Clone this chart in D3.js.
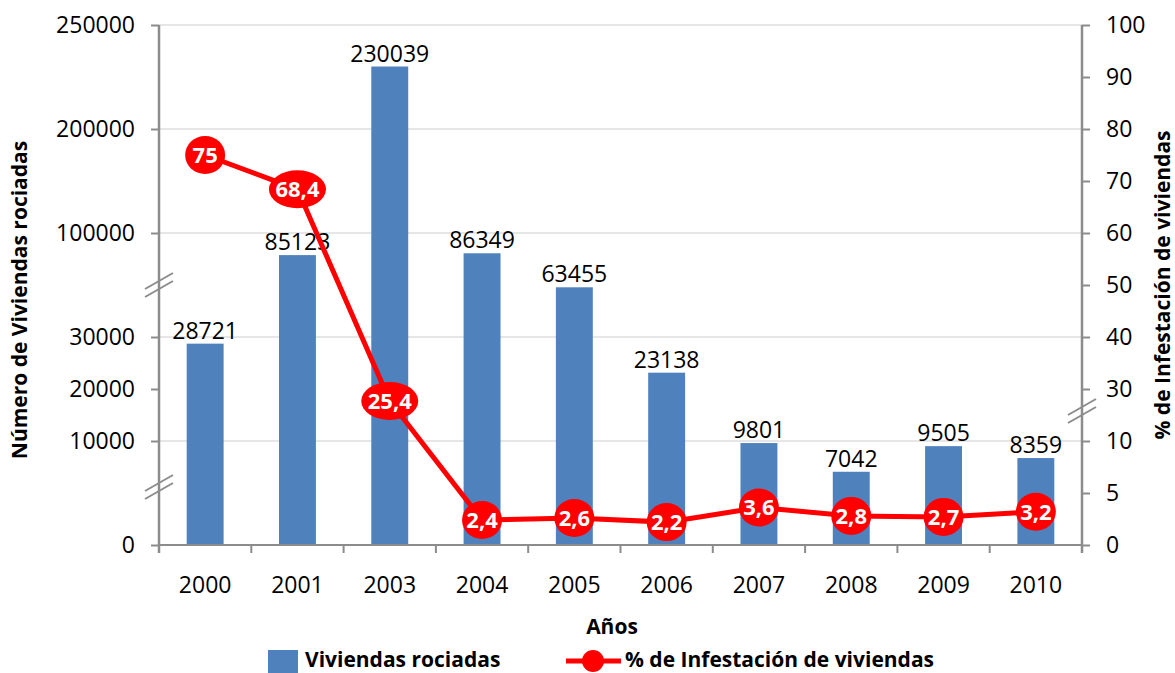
<!DOCTYPE html>
<html>
    <head>
        <meta charset="utf-8">
        <title>Viviendas rociadas e infestación</title>
        <script src="https://d3js.org/d3.v7.min.js" charset="utf-8"></script>
        <style>
            body { margin: 0; background: #fff; }
            text { font-family: "Open Sans", sans-serif; fill: #000; }
        </style>
    </head>
    <body>
        <script>
            // datos
            var years = ["2000", "2001", "2003", "2004", "2005", "2006", "2007", "2008", "2009", "2010"];
            var sprayed = [28721, 85123, 230039, 86349, 63455, 23138, 9801, 7042, 9505, 8359];
            var infestation = [75, 68.4, 25.4, 2.4, 2.6, 2.2, 3.6, 2.8, 2.7, 3.2];
            var leftTicks = [0, 10000, 20000, 30000, 100000, 200000, 250000];
            var leftGrid = [10000, 30000, 100000, 200000, 250000];
            var rightTicks = [0, 5, 10, 30, 40, 50, 60, 70, 80, 90, 100];

            var W = 1175, H = 673;
            var pLeft = 159, pRight = 1082, pTop = 25, pBottom = 545;
            var blue = "#4f81bd", red = "#ff0000", axisGray = "#8c8c8c";

            var svg = d3.select("body").append("svg")
                .attr("width", W)
                .attr("height", H);

            var x = d3.scaleBand()
                .domain(years)
                .range([pLeft, pRight])
                .paddingInner(0.6)
                .paddingOuter(0.3);

            // ejes cortados: escalas por tramos
            var yL = d3.scaleLinear()
                .domain([0, 10000, 30000, 100000, 200000, 250000])
                .range([pBottom, 441, 337, 233, 129, pTop]);
            var yR = d3.scaleLinear()
                .domain([0, 10, 30, 100])
                .range([pBottom, 441, 389, pTop]);

            var comma = d3.formatLocale({decimal: ",", thousands: ".", grouping: [3], currency: ["", ""]}).format("~g");

            // grid
            svg.append("g").selectAll("line")
                .data(leftGrid)
                .join("line")
                .attr("x1", pLeft).attr("x2", pRight)
                .attr("y1", d => yL(d)).attr("y2", d => yL(d))
                .attr("stroke", "#e6e6e6")
                .attr("stroke-width", 2);

            // barras
            svg.append("g").selectAll("rect")
                .data(sprayed)
                .join("rect")
                .attr("x", (d, i) => x(years[i]))
                .attr("width", x.bandwidth())
                .attr("y", d => yL(d))
                .attr("height", d => pBottom - yL(d))
                .attr("fill", blue);

            svg.append("g").selectAll("text")
                .data(sprayed)
                .join("text")
                .attr("x", (d, i) => x(years[i]) + x.bandwidth() / 2)
                .attr("y", d => yL(d) - 5)
                .attr("text-anchor", "middle")
                .style("font-size", "23px")
                .text(d => d);

            // eje izquierdo
            var gL = svg.append("g")
                .attr("transform", `translate(${pLeft},0)`)
                .call(d3.axisLeft(yL).tickValues(leftTicks).tickFormat(d3.format("d")).tickSize(8).tickPadding(16));
            // eje derecho
            var gR = svg.append("g")
                .attr("transform", `translate(${pRight},0)`)
                .call(d3.axisRight(yR).tickValues(rightTicks).tickSize(8).tickPadding(16));
            [gL, gR].forEach(g => {
                g.select(".domain").remove();
                g.selectAll(".tick line").attr("stroke", axisGray).attr("stroke-width", 2);
                g.selectAll(".tick text").style("font-size", "23px").attr("fill", "#000");
            });
            svg.append("line")
                .attr("x1", pLeft).attr("x2", pLeft)
                .attr("y1", pTop).attr("y2", pBottom + 8)
                .attr("stroke", axisGray).attr("stroke-width", 2.5);
            svg.append("line")
                .attr("x1", pRight).attr("x2", pRight)
                .attr("y1", pTop).attr("y2", pBottom + 8)
                .attr("stroke", axisGray).attr("stroke-width", 2.5);

            // eje x
            svg.append("line")
                .attr("x1", pLeft).attr("x2", pRight)
                .attr("y1", pBottom).attr("y2", pBottom)
                .attr("stroke", axisGray).attr("stroke-width", 2);
            var step = x.step();
            var bounds = years.map(d => x(d) + x.bandwidth() / 2 - step / 2).concat([pRight]);
            svg.append("g").selectAll("line")
                .data(bounds)
                .join("line")
                .attr("x1", d => d).attr("x2", d => d)
                .attr("y1", pBottom).attr("y2", pBottom + 8)
                .attr("stroke", axisGray).attr("stroke-width", 2);
            svg.append("g").selectAll("text")
                .data(years)
                .join("text")
                .attr("x", d => x(d) + x.bandwidth() / 2)
                .attr("y", 593)
                .attr("text-anchor", "middle")
                .style("font-size", "23px")
                .text(d => d);

            // marcas de corte
            function breakMark(cx, cy) {
                [-4, 4].forEach(off => {
                    svg.append("line")
                        .attr("x1", cx - 14).attr("y1", cy + off + 8)
                        .attr("x2", cx + 14).attr("y2", cy + off - 8)
                        .attr("stroke", axisGray).attr("stroke-width", 2);
                });
            }
            breakMark(pLeft, 285);
            breakMark(pLeft, 487);
            breakMark(pRight, 411);

            // linea de infestacion
            var line = d3.line()
                .x((d, i) => x(years[i]) + x.bandwidth() / 2)
                .y(d => yR(d));
            svg.append("path")
                .datum(infestation)
                .attr("d", line)
                .attr("fill", "none")
                .attr("stroke", red)
                .attr("stroke-width", 5);

            var mk = svg.append("g").selectAll("g")
                .data(infestation)
                .join("g")
                .attr("transform", (d, i) => `translate(${x(years[i]) + x.bandwidth() / 2},${yR(d)})`);
            mk.append("ellipse")
                .attr("rx", d => comma(d).length > 3 ? 28.5 : 20)
                .attr("ry", 19)
                .attr("fill", red);
            mk.append("text")
                .attr("text-anchor", "middle")
                .attr("dy", "0.36em")
                .style("font-size", "22px")
                .style("font-weight", "bold")
                .style("fill", "#fff")
                .text(d => comma(d));

            // titulos
            svg.append("text")
                .attr("transform", "translate(27,300) rotate(-90)")
                .attr("text-anchor", "middle")
                .style("font-size", "21px")
                .style("font-weight", "bold")
                .text("Número de Viviendas rociadas");
            svg.append("text")
                .attr("transform", "translate(1163,285) rotate(-90)")
                .attr("dy", "0.35em")
                .attr("text-anchor", "middle")
                .style("font-size", "21px")
                .style("font-weight", "bold")
                .text("% de Infestación de viviendas");
            svg.append("text")
                .attr("x", 612).attr("y", 634)
                .attr("text-anchor", "middle")
                .style("font-size", "21px")
                .style("font-weight", "bold")
                .text("Años");

            // leyenda
            svg.append("rect")
                .attr("x", 268).attr("y", 650)
                .attr("width", 30).attr("height", 23)
                .attr("fill", blue);
            svg.append("text")
                .attr("x", 305).attr("y", 667)
                .style("font-size", "21px")
                .style("font-weight", "bold")
                .text("Viviendas rociadas");
            svg.append("line")
                .attr("x1", 566).attr("x2", 621)
                .attr("y1", 661).attr("y2", 661)
                .attr("stroke", red).attr("stroke-width", 5);
            svg.append("circle")
                .attr("cx", 593).attr("cy", 661).attr("r", 11)
                .attr("fill", red);
            svg.append("text")
                .attr("x", 625).attr("y", 667)
                .style("font-size", "21px")
                .style("font-weight", "bold")
                .text("% de Infestación de viviendas");
        </script>
    </body>
</html>
